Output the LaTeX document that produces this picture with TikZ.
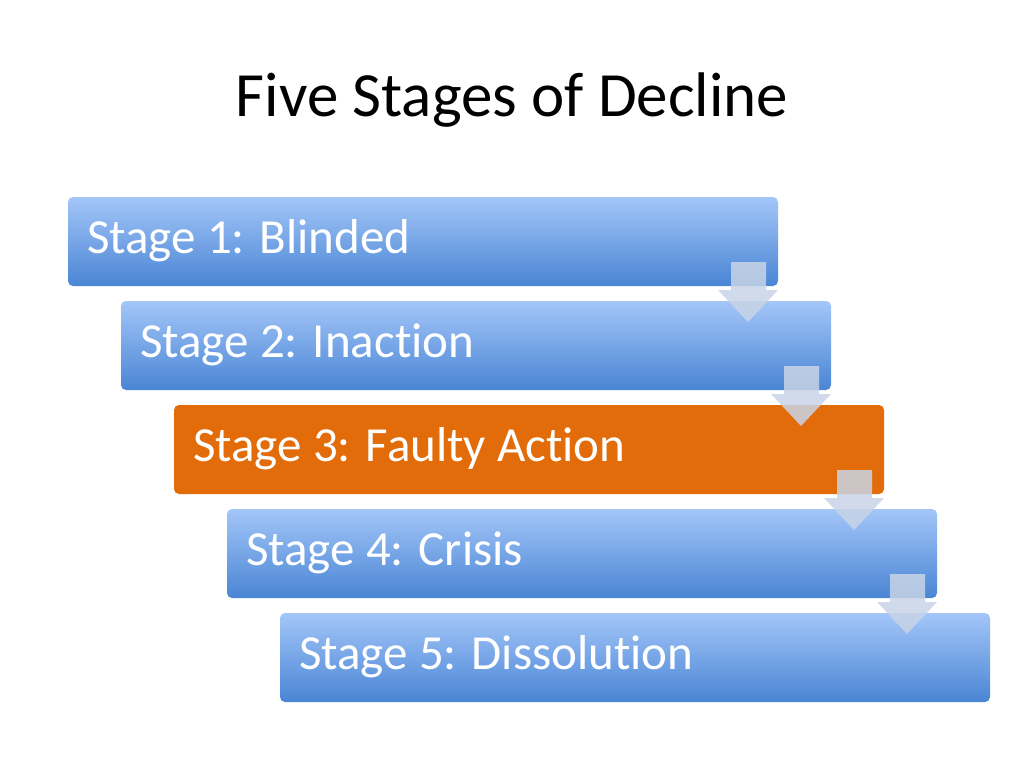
\documentclass[tikz,border=0pt]{standalone}
\usepackage{fontspec}
\setmainfont{Carlito}[Ligatures=NoCommon]
\begin{document}
\begin{tikzpicture}[x=1pt,y=-1pt,
  stagebox/.style={rounded corners=5pt,top color=blue1,bottom color=blue2,draw=none},
  stagetxt/.style={anchor=west,text=white,font=\fontsize{49}{58}\selectfont,inner sep=0pt},
  downarr/.style={fill=arrc,fill opacity=0.85,draw=none}]
\definecolor{blue1}{HTML}{A3C6F8}
\definecolor{blue2}{HTML}{4A85D5}
\definecolor{orng}{HTML}{E36C0A}
\definecolor{arrc}{HTML}{C8D4E6}
\useasboundingbox (0,0) rectangle (1024,768);
\node[font=\fontsize{63}{72}\selectfont,text=black] (title) at (512,100) {Five Stages of Decline};
\foreach \i/\t in {1/Stage 1: Blinded,2/Stage 2: Inaction,3/Stage 3: Faulty Action,4/Stage 4: Crisis,5/Stage 5: Dissolution}{
  \pgfmathsetmacro\xo{68+53*(\i-1)}
  \pgfmathsetmacro\yo{197+104*(\i-1)}
  \ifnum\i=3
    \fill[rounded corners=5pt,orng] (\xo,\yo) rectangle ++(710,89);
  \else
    \shade[stagebox] (\xo,\yo) rectangle ++(710,89);
  \fi
  \node[stagetxt] (s\i) at (\xo+19,\yo+44) {\t};
}
\foreach \i in {1,2,3,4}{
  \pgfmathsetmacro\xr{778+53*(\i-1)}
  \pgfmathsetmacro\yt{262+104*(\i-1)}
  \fill[downarr] (\xr-47,\yt) -- (\xr-12,\yt) -- (\xr-12,\yt+28) -- (\xr,\yt+28)
     -- (\xr-30,\yt+60) -- (\xr-60,\yt+28) -- (\xr-47,\yt+28) -- cycle;
}
\end{tikzpicture}
\end{document}
